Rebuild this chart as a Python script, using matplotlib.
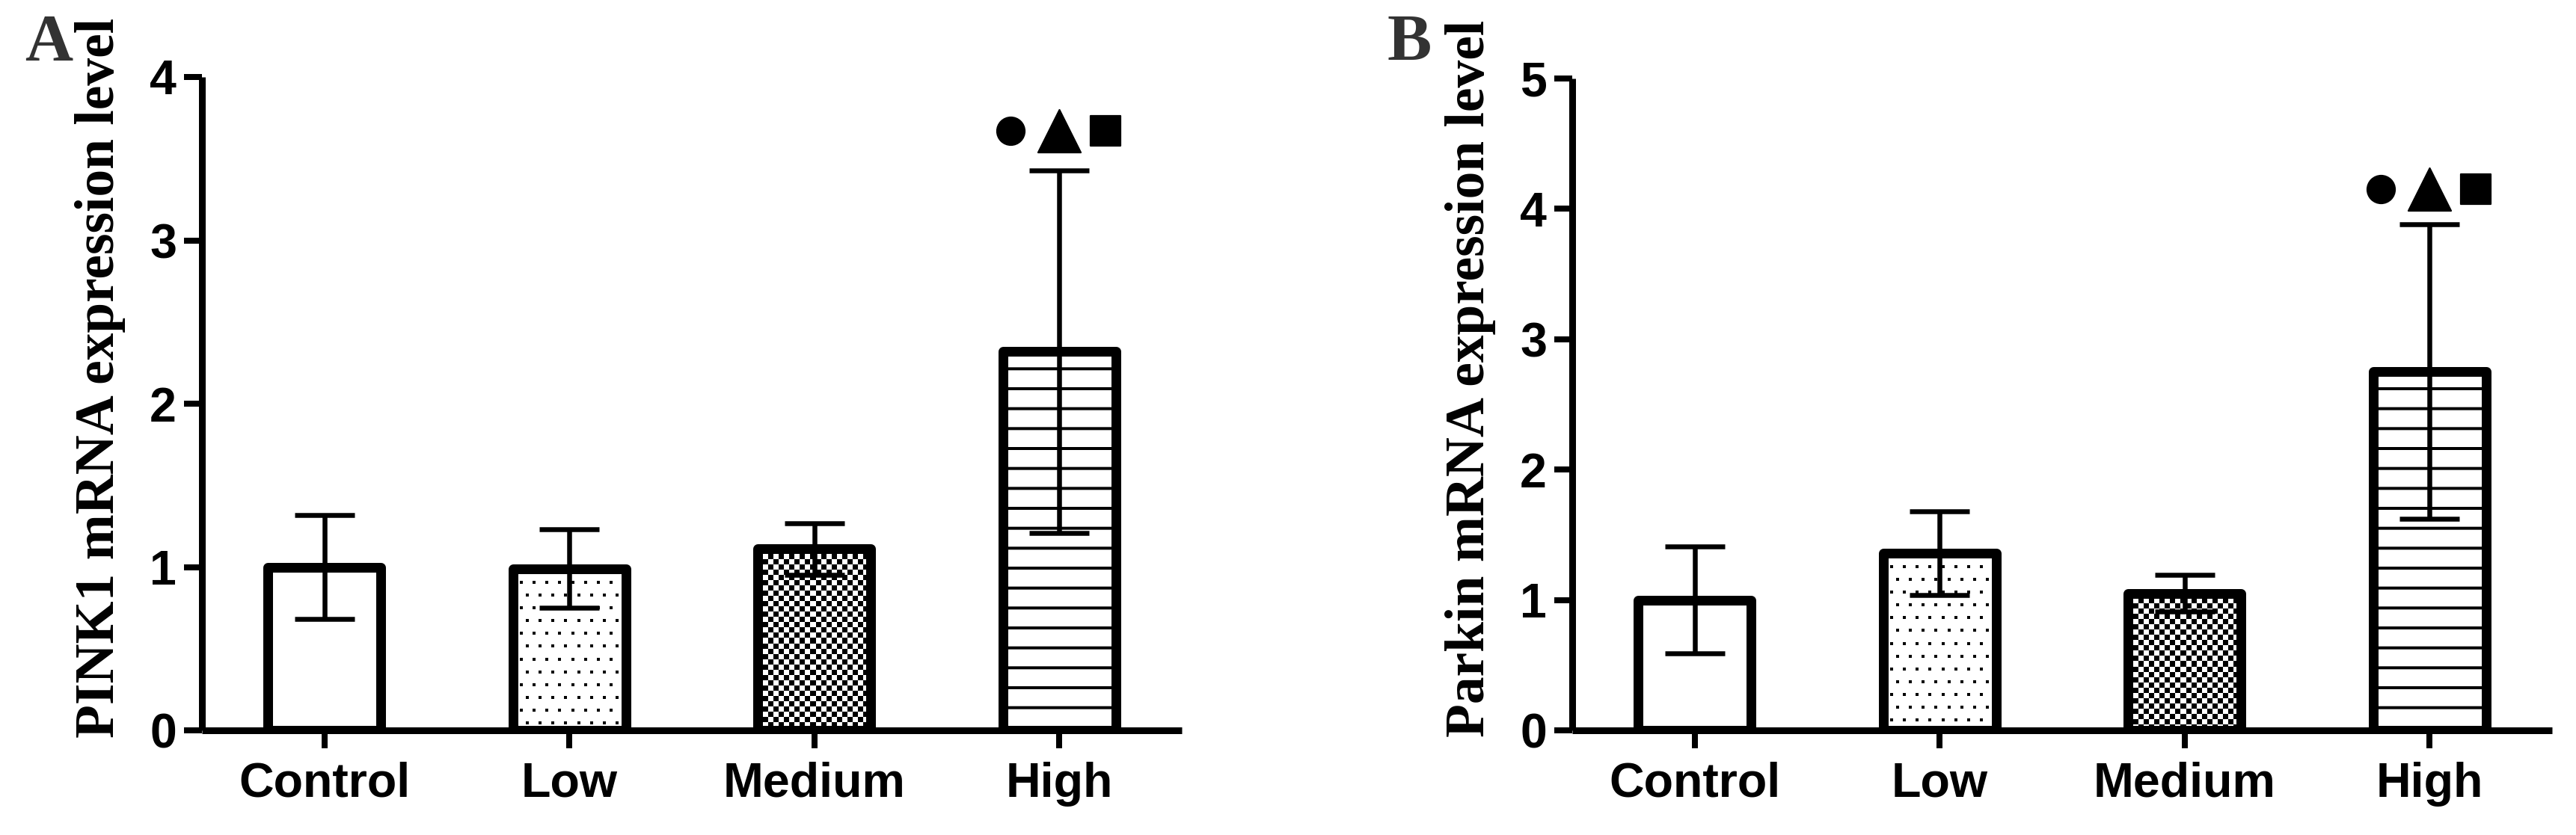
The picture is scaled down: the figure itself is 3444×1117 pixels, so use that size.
import numpy as np
import matplotlib
matplotlib.use('Agg')
import matplotlib.pyplot as plt

groups = ["Control", "Low", "Medium", "High"]

pink1_mean = [1.00, 0.99, 1.11, 2.32]
pink1_sd = [0.32, 0.24, 0.16, 1.11]
pink1_mark_y = 3.67

parkin_mean = [1.00, 1.36, 1.05, 2.75]
parkin_sd = [0.41, 0.32, 0.14, 1.13]
parkin_mark_y = 4.15

DPI = 160
PT = 72 / DPI  # points per pixel

plt.rcParams['hatch.linewidth'] = 4 * PT
plt.rcParams['font.family'] = ['Liberation Sans', 'DejaVu Sans']


def texture_fill(ax, patch, kind):
    # paint a pixel texture inside a bar, clipped to the bar outline
    x0, y0 = patch.get_x(), patch.get_y()
    w, h = patch.get_width(), patch.get_height()
    (px0, py0), (px1, py1) = ax.transData.transform([(x0, y0), (x0 + w, y0 + h)])
    nx, ny = int(abs(px1 - px0)), int(abs(py1 - py0))
    yy, xx = np.mgrid[0:ny, 0:nx]
    if kind == "checker":
        img = ((xx // 7 + yy // 7) % 2).astype(float)
    else:
        shift = ((yy // 17) % 2) * 8
        img = (((yy % 17) < 4) & (((xx + shift) % 17) < 4)).astype(float)
    im = ax.imshow(img[::-1], cmap='gray_r', vmin=0, vmax=1, origin='lower',
                   extent=(x0, x0 + w, y0, y0 + h), interpolation='nearest',
                   aspect='auto', zorder=1.5)
    im.set_clip_path(patch)


def draw_panel(ax, means, sds, ymax, ylabel, mark_y):
    x = np.arange(len(groups))
    ax.set_xlim(-0.5, 3.5)
    ax.set_ylim(0, ymax)
    bars = ax.bar(x, means, width=0.46, color='none', edgecolor='black',
                  linewidth=13 * PT, zorder=2)
    for b in bars:
        b.set_joinstyle('round')
    texture_fill(ax, bars[1], "dots")
    texture_fill(ax, bars[2], "checker")
    bars[3].set_hatch('-')
    ax.set_xlim(-0.5, 3.5)
    ax.set_ylim(0, ymax)

    ax.errorbar(x, means, yerr=sds, fmt='none', ecolor='black',
                elinewidth=6.5 * PT, capsize=40 * PT, capthick=6.5 * PT, zorder=3)

    # significance symbols above the High bar
    xh = x[3]
    ax.scatter([xh - 0.2], [mark_y], marker='o', s=(37 * PT) ** 2, color='black', zorder=4, clip_on=False)
    ax.scatter([xh], [mark_y], marker='^', s=(57 * PT) ** 2, color='black', zorder=4, clip_on=False)
    ax.scatter([xh + 0.19], [mark_y], marker='s', s=(40 * PT) ** 2, color='black', zorder=4, clip_on=False)

    for s in ['top', 'right']:
        ax.spines[s].set_visible(False)
    for s in ['left', 'bottom']:
        ax.spines[s].set_linewidth(9 * PT)
        ax.spines[s].set_capstyle('butt')
    ax.set_xticks(x)
    ax.set_xticklabels(groups, fontsize=29, fontweight='bold')
    ax.set_yticks(np.arange(0, ymax + 1))
    ax.tick_params(axis='both', direction='out', length=24 * PT, width=8 * PT, labelsize=29)
    ax.tick_params(axis='x', pad=18 * PT)
    ax.tick_params(axis='y', pad=10 * PT)
    for t in ax.get_yticklabels():
        t.set_fontweight('bold')
    ax.set_ylabel(ylabel, fontsize=33, fontweight='bold', family=['Liberation Serif', 'DejaVu Serif'])
    ax.yaxis.set_label_coords(-0.078, 0.54)


fig = plt.figure(figsize=(3444 / DPI, 1117 / DPI), dpi=DPI)
axA = fig.add_axes([270 / 3444, 140 / 1117, 1310 / 3444, 874 / 1117])
axB = fig.add_axes([2102 / 3444, 140 / 1117, 1310 / 3444, 872 / 1117])

draw_panel(axA, pink1_mean, pink1_sd, 4, "PINK1 mRNA expression level", pink1_mark_y)
draw_panel(axB, parkin_mean, parkin_sd, 5, "Parkin mRNA expression level", parkin_mark_y)

fig.text(33 / 3444, 1 - 80 / 1117, "A", fontsize=40, fontweight='bold', color='#333333',
         family=['Liberation Serif', 'DejaVu Serif'], va='baseline', ha='left')
fig.text(1855 / 3444, 1 - 80 / 1117, "B", fontsize=40, fontweight='bold', color='#333333',
         family=['Liberation Serif', 'DejaVu Serif'], va='baseline', ha='left')

fig.savefig("out.png", dpi=DPI, facecolor='white')
